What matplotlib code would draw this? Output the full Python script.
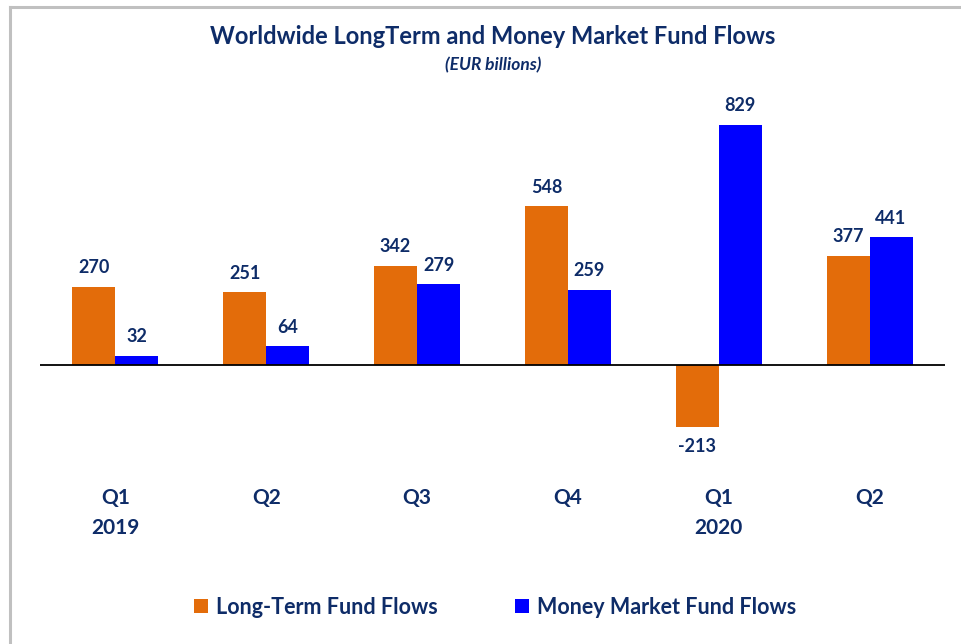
import matplotlib
matplotlib.use("Agg")
import matplotlib.pyplot as plt
from matplotlib.lines import Line2D
from matplotlib.patches import Patch
import numpy as np

categories = ["Q1\n2019", "Q2", "Q3", "Q4", "Q1\n2020", "Q2"]
long_term = [270, 251, 342, 548, -213, 377]
money_market = [32, 64, 279, 259, 829, 441]
series_names = ["Long-Term Fund Flows", "Money Market Fund Flows"]

NAVY = "#0E2C68"
ORANGE = "#E36C0A"
BLUE = "#0000FF"
FONT = "Lato"

W, H = 962, 644
fig = plt.figure(figsize=(W / 100, H / 100), dpi=100)
fig.patch.set_facecolor("white")

# axes placement in pixels
ax_left, ax_right = 40, 945
ax_top, ax_bot = 100, 460
ax = fig.add_axes([ax_left / W, 1 - ax_bot / H, (ax_right - ax_left) / W, (ax_bot - ax_top) / H])

x = np.arange(len(categories))
bw = 0.285
b1 = ax.bar(x - bw / 2, long_term, bw, color=ORANGE, label=series_names[0])
b2 = ax.bar(x + bw / 2, money_market, bw, color=BLUE, label=series_names[1])

ax.set_xlim(-0.5, len(categories) - 0.5)
ax.set_ylim(-328, 914)
ax.axhline(0, color="black", lw=1.3)

for bars, vals in ((b1, long_term), (b2, money_market)):
    for rect, v in zip(bars, vals):
        cx = rect.get_x() + rect.get_width() / 2
        if v >= 0:
            ax.annotate(f"{v}", (cx, v), xytext=(0, 7.5), textcoords="offset points",
                        ha="center", va="bottom", fontsize=13, fontweight="bold",
                        color=NAVY, family=FONT)
        else:
            ax.annotate(f"{v}", (cx, v), xytext=(0, -8), textcoords="offset points",
                        ha="center", va="top", fontsize=13, fontweight="bold",
                        color=NAVY, family=FONT)

ax.set_xticks(x)
ax.set_xticklabels(categories, fontsize=15, fontweight="bold", color=NAVY,
                   family=FONT, linespacing=1.65)
ax.tick_params(axis="x", length=0, pad=20)
ax.set_yticks([])
for s in ax.spines.values():
    s.set_visible(False)

fig.text(493 / W, 1 - 36 / H, "Worldwide LongTerm and Money Market Fund Flows",
         ha="center", va="center", fontsize=17, fontweight="bold", color=NAVY, family=FONT)
fig.text(493 / W, 1 - 65 / H, "(EUR billions)", ha="center", va="center",
         fontsize=12.5, fontweight="bold", style="italic", color=NAVY, family=FONT)

handles = [Patch(facecolor=ORANGE), Patch(facecolor=BLUE)]
fig.legend(handles, series_names, loc="center", bbox_to_anchor=(495 / W, 1 - 607 / H),
           ncol=2, frameon=False, handlelength=0.65, handleheight=0.65,
           handletextpad=0.35, columnspacing=3.6,
           prop={"family": FONT, "weight": "bold", "size": 15.5}, labelcolor=NAVY)

# outer border (top and left)
fig.add_artist(Line2D([10 / W, 10 / W], [0, 1 - 7 / H], transform=fig.transFigure,
                      color="#C0C0C0", lw=2.2))
fig.add_artist(Line2D([10 / W, 1], [1 - 7 / H, 1 - 7 / H], transform=fig.transFigure,
                      color="#C0C0C0", lw=2.2))

fig.savefig("out.png", dpi=100)
